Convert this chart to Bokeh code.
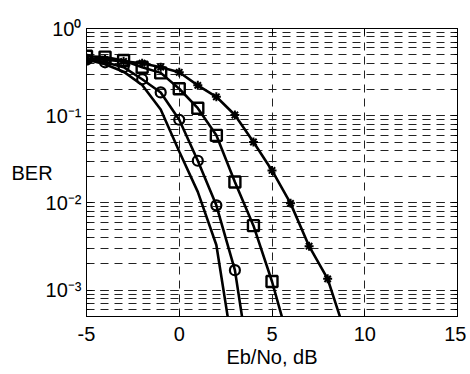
from bokeh.plotting import figure
from bokeh.models import (FixedTicker, LogTicker, LogAxis, LinearAxis, Range1d,
                          CustomLabelingPolicy)
from bokeh.embed import file_html
from bokeh.resources import INLINE

# ---- data ----
x_plain = [-5, -4, -3, -2, -1, 0, 1, 2, 3]
ber_plain = [0.44, 0.39, 0.32, 0.225, 0.118, 0.039, 0.0134, 0.0033, 0.00015]

x_circ = [-5, -4, -3, -2, -1, 0, 1, 2, 3, 4]
ber_circ = [0.44, 0.41, 0.36, 0.262, 0.185, 0.09, 0.0305, 0.0094, 0.0017, 0.00007]

x_sq = [-5, -4, -3, -2, -1, 0, 1, 2, 3, 4, 5, 6]
ber_sq = [0.48, 0.47, 0.43, 0.36, 0.31, 0.204, 0.122, 0.0596, 0.0174, 0.0055, 0.00126, 0.00022]

x_star = [-5, -4, -3, -2, -1, 0, 1, 2, 3, 4, 5, 6, 7, 8, 9]
ber_star = [0.45, 0.44, 0.42, 0.40, 0.36, 0.315, 0.223, 0.165, 0.102, 0.05, 0.0236, 0.0099, 0.0032, 0.00135, 0.0003]

x_ticks = [-5, 0, 5, 10, 15]
x_tick_labels = ["-5", "0", "5", "10", "15"]
y_ticks = [1, 0.1, 0.01, 0.001]
y_tick_labels = ["10\u2070", "10\u207b\u00b9", "10\u207b\u00b2", "10\u207b\u00b3"]

FONT = "Liberation Sans"
FS = "20px"

p = figure(width=466, height=374, y_axis_type="log",
           x_range=Range1d(-5, 15), y_range=Range1d(5e-4, 1),
           output_backend="svg", toolbar_location=None,
           min_border_left=86, min_border_right=9, min_border_top=28, min_border_bottom=58)
p.background_fill_color = "white"
p.border_fill_color = "white"
p.outline_line_color = "black"
p.outline_line_width = 1

# axes
p.xaxis.ticker = FixedTicker(ticks=x_ticks)
p.xaxis.major_label_overrides = {v: t for v, t in zip(x_ticks, x_tick_labels)}
p.yaxis.ticker = LogTicker(num_minor_ticks=10)
p.yaxis.major_label_overrides = {v: t for v, t in zip(y_ticks, y_tick_labels)}
for ax in (p.xaxis[0], p.yaxis[0]):
    ax.major_tick_in = 6
    ax.major_tick_out = 0
    ax.minor_tick_in = 3
    ax.minor_tick_out = 0
    ax.axis_line_color = "black"
    ax.major_label_text_font = FONT
    ax.major_label_text_font_size = FS
    ax.major_label_text_color = "black"
    ax.axis_label_text_font = FONT
    ax.axis_label_text_font_size = FS
    ax.axis_label_text_font_style = "normal"
    ax.axis_label_text_color = "black"
p.xaxis.minor_tick_in = 0
p.xaxis.major_label_standoff = 10
p.xaxis.axis_label = "Eb/No, dB"
p.xaxis.axis_label_standoff = 2
p.yaxis.major_label_standoff = 5
p.yaxis.axis_label = "BER"
p.yaxis.axis_label_orientation = "horizontal"
p.yaxis.axis_label_standoff = -10

hide_all = CustomLabelingPolicy(code="""
for (const i of indices) { indices.unset(i) }
return indices
""")

# right / top axes for box ticks (no labels)
ra = LogAxis(ticker=LogTicker(num_minor_ticks=10), major_tick_in=6, major_tick_out=0,
             minor_tick_in=3, minor_tick_out=0, major_label_policy=hide_all,
             major_label_text_font_size="1px",
             major_label_standoff=0, axis_line_color="black")
p.add_layout(ra, "right")
ta = LinearAxis(ticker=FixedTicker(ticks=x_ticks), major_tick_in=6, major_tick_out=0,
                minor_tick_in=0, minor_tick_out=0, major_label_policy=hide_all,
                major_label_text_font_size="1px",
                major_label_standoff=0, axis_line_color="black")
p.add_layout(ta, "above")

# grids
GC = "#222222"
p.xgrid.ticker = FixedTicker(ticks=[0, 5, 10])
p.xgrid.grid_line_color = GC
p.xgrid.grid_line_dash = "8 6"
p.xgrid.grid_line_width = 1
p.ygrid.grid_line_color = GC
p.ygrid.grid_line_dash = "8 6"
p.ygrid.minor_grid_line_color = GC
p.ygrid.minor_grid_line_dash = "8 6"

LW = 2.6
p.line(x_plain, ber_plain, line_color="black", line_width=LW)
p.line(x_circ, ber_circ, line_color="black", line_width=LW)
p.scatter(x_circ, ber_circ, marker="circle", size=10, line_color="black",
          fill_color=None, line_width=2.2)
p.line(x_sq, ber_sq, line_color="black", line_width=LW)
p.scatter(x_sq, ber_sq, marker="square", size=11, line_color="black",
          fill_color=None, line_width=2.4)
p.line(x_star, ber_star, line_color="black", line_width=LW)
p.scatter(x_star, ber_star, marker="asterisk", size=9, line_color="black", line_width=2)

open("out.html", "w").write(file_html(p, INLINE))
